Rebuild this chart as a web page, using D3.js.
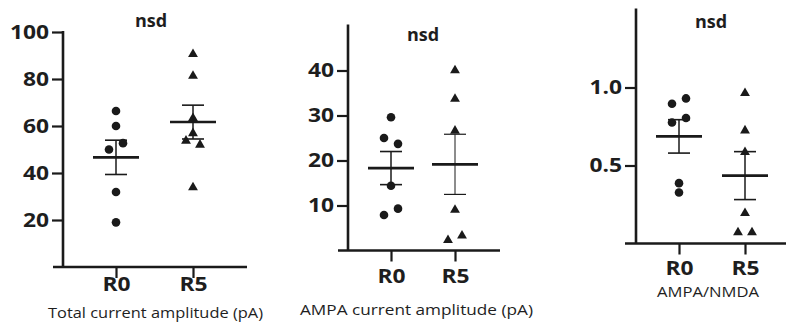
<!DOCTYPE html>
<html><head><meta charset="utf-8">
<script src="https://cdn.jsdelivr.net/npm/d3@7"></script>
<style>
html,body{margin:0;padding:0;background:#fff;}
svg{display:block;}
text{font-family:"Open Sans",Lato,sans-serif;fill:#1e1e1e;}
</style></head>
<body>
<script>
// ---- data ----
const categories = ["R0", "R5"];
const panelTitles = ["nsd", "nsd", "nsd"];
const axisLabels = ["Total current amplitude (pA)", "AMPA current amplitude (pA)", "AMPA/NMDA"];

const totalR0 = [66.4, 60, 52.7, 50, 31.9, 19];
const totalR0Jitter = [0, 0, 1, -1, 0, 0];
const totalR5 = [90.6, 81.3, 63.3, 56.9, 53.7, 52, 33.9];
const totalR5Jitter = [0, 0, 0, 0, -1, 1, 0];
const totalTicks = [20, 40, 60, 80, 100];
const totalDomain = [0, 100];

const ampaR0 = [29.6, 25, 23.7, 14.4, 9.3, 7.9];
const ampaR0Jitter = [0, -1, 1, 0, 1, -1];
const ampaR5 = [40, 33.7, 26.6, 9, 2.3, 3.3];
const ampaR5Jitter = [0, 0, 0, 0, -1, 1];
const ampaTicks = [10, 20, 30, 40];
const ampaDomain = [0, 50];

const ratioR0 = [0.896, 0.93, 0.776, 0.804, 0.387, 0.327];
const ratioR0Jitter = [-1, 1, -1, 1, 0, 0];
const ratioR5 = [0.964, 0.724, 0.586, 0.195, 0.071, 0.071];
const ratioR5Jitter = [0, 0, 0, 0, -1, 1];
const ratioTicks = [0.5, 1.0];
const ratioDomain = [0, 1.5];

// ---- drawing ----
const W = 786, H = 326;
const svg = d3.select("body").append("svg").attr("width", W).attr("height", H);
const ink = "#1a1a1a";
const SX = 1.2; // horizontal stretch of tick lettering

function stats(a) {
  return {m: d3.mean(a), sem: d3.deviation(a) / Math.sqrt(a.length)};
}

function panel(o) {
  const g = svg.append("g");
  const y = d3.scaleLinear().domain(o.domain).range([o.yBottom, o.yTop]);
  const x = d3.scalePoint().domain(categories).range(o.cats);

  // y axis
  const ya = g.append("g").attr("transform", `translate(${o.axisX},0)`)
    .call(d3.axisLeft(y).tickValues(o.ticks).tickFormat(o.fmt).tickSize(11).tickSizeOuter(0));
  ya.select(".domain").remove();
  ya.selectAll(".tick line").attr("stroke", ink).attr("stroke-width", 2.2);
  ya.selectAll(".tick text").attr("font-size", 19).attr("font-weight", 700).attr("fill", ink)
    .attr("font-family", "'Open Sans', sans-serif")
    .attr("x", -14 / SX).attr("transform", `scale(${SX},1)`);
  g.append("line").attr("x1", o.axisX).attr("x2", o.axisX).attr("y1", y(o.domain[1]) - 1).attr("y2", y(o.domain[0]))
    .attr("stroke", ink).attr("stroke-width", 2.6);

  // x axis
  const xa = g.append("g").attr("transform", `translate(0,${y(0)})`)
    .call(d3.axisBottom(x).tickSize(11).tickSizeOuter(0));
  xa.select(".domain").remove();
  xa.selectAll(".tick line").attr("stroke", ink).attr("stroke-width", 2.2);
  xa.selectAll(".tick text").attr("font-size", 19).attr("font-weight", 700).attr("fill", ink)
    .attr("font-family", "'Open Sans', sans-serif")
    .attr("y", o.xLabelOffset).attr("dy", 0).attr("transform", `scale(${SX},1)`);
  g.append("line").attr("x1", o.xStart).attr("x2", o.xEnd).attr("y1", y(0)).attr("y2", y(0))
    .attr("stroke", ink).attr("stroke-width", 2.6);

  // points + mean ± SEM
  o.series.forEach((s, i) => {
    const cx = x(categories[i]);
    const sym = i === 0 ? d3.symbol(d3.symbolCircle, 58) : d3.symbol(d3.symbolTriangle, 42);
    g.selectAll(null).data(s.values).join("path")
      .attr("d", sym)
      .attr("transform", (d, k) => `translate(${cx + s.jitter[k] * 7},${y(d)})`)
      .attr("fill", ink);
    const st = stats(s.values);
    const thin = o.thinSem && o.thinSem[i];
    g.append("line").attr("x1", cx - 23).attr("x2", cx + 23).attr("y1", y(st.m)).attr("y2", y(st.m))
      .attr("stroke", ink).attr("stroke-width", 2.6);
    g.append("line").attr("x1", cx).attr("x2", cx).attr("y1", y(st.m + st.sem)).attr("y2", y(st.m - st.sem))
      .attr("stroke", ink).attr("stroke-width", thin ? 1 : 1.5);
    [st.m + st.sem, st.m - st.sem].forEach(v => {
      g.append("line").attr("x1", cx - 11).attr("x2", cx + 11).attr("y1", y(v)).attr("y2", y(v))
        .attr("stroke", ink).attr("stroke-width", thin ? 1.2 : 1.6);
    });
  });

  g.append("text").attr("x", o.title[0]).attr("y", o.title[1]).attr("text-anchor", "middle")
    .attr("font-size", 18).attr("font-weight", 700).text(o.titleText);
  g.append("text").attr("x", o.label[0]).attr("y", o.label[1]).attr("text-anchor", "middle")
    .attr("font-size", o.labelSize).attr("textLength", o.labelWidth).attr("lengthAdjust", "spacingAndGlyphs")
    .text(o.labelText);
}

panel({
  domain: totalDomain, ticks: totalTicks, fmt: d3.format("d"),
  axisX: 63, yTop: 32, yBottom: 267, xStart: 53, xEnd: 247, cats: [116, 193], xLabelOffset: 24.5,
  series: [{values: totalR0, jitter: totalR0Jitter}, {values: totalR5, jitter: totalR5Jitter}],
  title: [151, 27], titleText: panelTitles[0], label: [155.5, 318], labelSize: 15, labelWidth: 215, labelText: axisLabels[0]
});
panel({
  domain: ampaDomain, ticks: ampaTicks, fmt: d3.format("d"),
  axisX: 348, yTop: 25.5, yBottom: 250.5, xStart: 338, xEnd: 500, cats: [391, 455], xLabelOffset: 33,
  series: [{values: ampaR0, jitter: ampaR0Jitter}, {values: ampaR5, jitter: ampaR5Jitter}],
  thinSem: [false, true],
  title: [423, 41], titleText: panelTitles[1], label: [416.5, 315], labelSize: 15, labelWidth: 233, labelText: axisLabels[1]
});
panel({
  domain: ratioDomain, ticks: ratioTicks, fmt: d3.format(".1f"),
  axisX: 636, yTop: 9.5, yBottom: 243.5, xStart: 625, xEnd: 786, cats: [679, 745], xLabelOffset: 32,
  series: [{values: ratioR0, jitter: ratioR0Jitter}, {values: ratioR5, jitter: ratioR5Jitter}],
  title: [711, 28], titleText: panelTitles[2], label: [708, 297], labelSize: 14, labelWidth: 102, labelText: axisLabels[2]
});
</script>
</body></html>
